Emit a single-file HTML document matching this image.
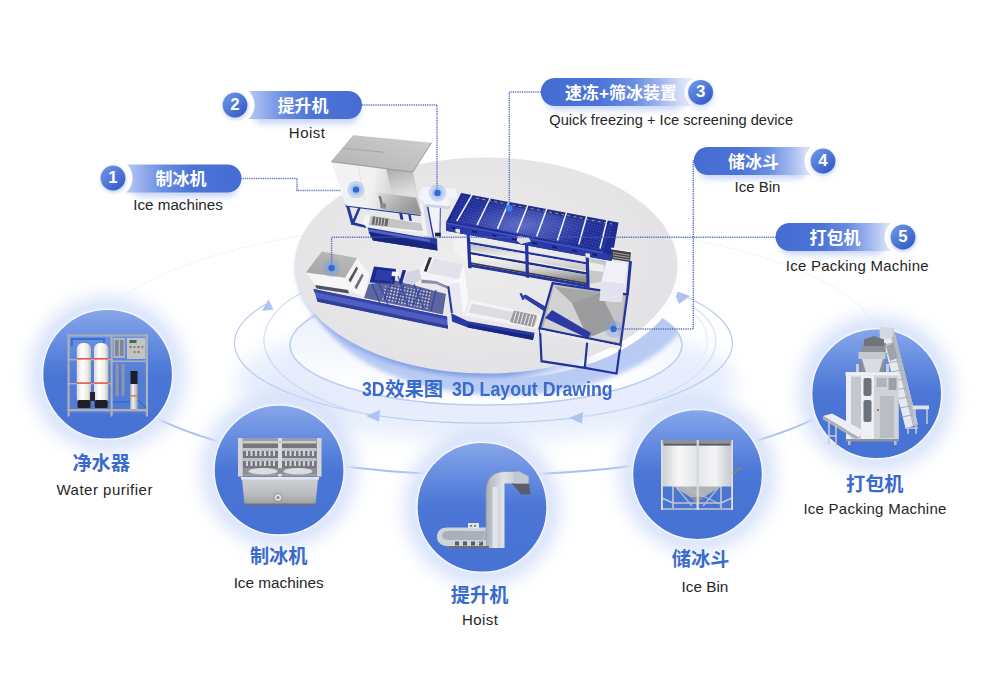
<!DOCTYPE html>
<html lang="zh">
<head>
<meta charset="utf-8">
<title>3D效果图 3D Layout Drawing</title>
<style>
html,body{margin:0;padding:0;background:#fff;}
body{width:1000px;height:689px;position:relative;overflow:hidden;font-family:"Liberation Sans",sans-serif;}
#stage{position:absolute;left:0;top:0;width:1000px;height:689px;}
svg{position:absolute;left:0;top:0;display:block;}
.t{position:absolute;white-space:nowrap;color:#262626;font-size:15px;line-height:18px;height:18px;transform:translateX(-50%);text-align:center;}
.zh{position:absolute;white-space:nowrap;color:transparent;font-size:17px;line-height:20px;transform:translate(-50%,-50%);}
.num{position:absolute;width:26px;height:26px;line-height:26px;text-align:center;color:#fff;font-weight:bold;font-size:16.8px;transform:translate(-50%,-50%);}
.ttl{position:absolute;white-space:nowrap;color:#3b6acd;font-weight:bold;font-size:21px;line-height:22px;transform:scaleX(0.845);transform-origin:0 0;}
</style>
</head>
<body>
<div id="stage">
<svg width="1000" height="689" viewBox="0 0 1000 689">

<!-- defs -->
<defs>
<linearGradient id="pillL" x1="0" y1="0" x2="1" y2="0">
  <stop offset="0" stop-color="#d5def7"/><stop offset="0.12" stop-color="#a9bdf0"/><stop offset="0.35" stop-color="#6c8fe3"/><stop offset="0.6" stop-color="#4c74d8"/><stop offset="1" stop-color="#446cd2"/>
</linearGradient>
<linearGradient id="pillR" x1="1" y1="0" x2="0" y2="0">
  <stop offset="0" stop-color="#eef2fc"/><stop offset="0.1" stop-color="#d3dcf7"/><stop offset="0.22" stop-color="#a3b8ef"/><stop offset="0.4" stop-color="#6a8de2"/><stop offset="0.62" stop-color="#4c74d8"/><stop offset="1" stop-color="#446cd2"/>
</linearGradient>
<linearGradient id="numG" x1="0.15" y1="0.1" x2="0.85" y2="0.9">
  <stop offset="0" stop-color="#6a92e6"/><stop offset="1" stop-color="#345dc6"/>
</linearGradient>
<linearGradient id="circG" x1="0" y1="0" x2="0" y2="1">
  <stop offset="0" stop-color="#88a7ea"/><stop offset="0.22" stop-color="#6a90e2"/><stop offset="0.5" stop-color="#4b76d6"/><stop offset="1" stop-color="#4672d3"/>
</linearGradient>
<radialGradient id="platG" cx="0.45" cy="0.45" r="0.6">
  <stop offset="0" stop-color="#ededee"/><stop offset="1" stop-color="#e2e2e4"/>
</radialGradient>
<filter id="b2" x="-20%" y="-20%" width="140%" height="140%"><feGaussianBlur stdDeviation="2"/></filter>
<filter id="b3" x="-30%" y="-30%" width="160%" height="160%"><feGaussianBlur stdDeviation="3"/></filter>
<filter id="b6" x="-30%" y="-30%" width="160%" height="160%"><feGaussianBlur stdDeviation="6"/></filter>
<filter id="b10" x="-30%" y="-30%" width="160%" height="160%"><feGaussianBlur stdDeviation="10"/></filter>
<filter id="b1" x="-20%" y="-20%" width="140%" height="140%"><feGaussianBlur stdDeviation="0.8"/></filter>
<clipPath id="platClip"><ellipse cx="486" cy="265.5" rx="191.5" ry="108"/></clipPath>
</defs>

<!-- background -->
<defs><linearGradient id="floorG" x1="0" y1="0" x2="0" y2="1"><stop offset="0" stop-color="#e6edfb"/><stop offset="0.5" stop-color="#f3f6fd"/><stop offset="0.8" stop-color="#fcfdff"/><stop offset="1" stop-color="#ffffff"/></linearGradient></defs>
<rect width="1000" height="689" fill="#ffffff"/>
<!-- faint big orbit -->
<ellipse cx="486" cy="348" rx="396" ry="127" fill="none" stroke="#f3f5fd" stroke-width="1.1"/>
<!-- soft blue wash under rings -->
<ellipse cx="486" cy="380" rx="250" ry="60" fill="#dfe8fb" filter="url(#b10)" opacity="0.75"/>
<!-- outer ring arcs -->
<g fill="none" stroke="#b9caf2" stroke-width="1.2">
<path d="M266.5,303.8 A249,80 0 1 0 680,294"/>
<path d="M300.5,293.5 C272,308 259,332 265.5,350 C275,380 320,405 374,416" stroke="#cfdaf6"/>
<path d="M576,417.5 C640,412 700,385 714,352 C720,335 712,318 690,305" stroke="#d6dff7"/>
<path d="M330,305 C300,318 292,338 296,352" stroke="#e2e9fa"/>
<path d="M640,397 C675,385 700,368 706,350 C710,336 704,322 694,314" stroke="#e6ecfb"/>
</g>
<!-- arrow heads -->
<g fill="#afc3f1">
<path d="M268.5,299.5 L262,311 L273.5,309.5 Z"/>
<path d="M366,416 L380,410 L379,421.5 Z"/>
<path d="M569,418 L583,412 L582,423.5 Z"/>
<path d="M673,290 L690,296 L679,304 Z"/>
</g>
<!-- inner ellipse -->
<ellipse cx="486" cy="345" rx="196" ry="60" fill="url(#floorG)" stroke="#bccdf3" stroke-width="1.5"/>

<!-- platform -->
<defs>
<clipPath id="floorClip"><ellipse cx="486" cy="345" rx="196" ry="60"/></clipPath>
<linearGradient id="wallG" x1="0" y1="0" x2="1" y2="0"><stop offset="0" stop-color="#ffffff" stop-opacity="0"/><stop offset="0.55" stop-color="#ffffff" stop-opacity="0"/><stop offset="0.8" stop-color="#ffffff" stop-opacity="1"/><stop offset="1" stop-color="#fbfcff" stop-opacity="1"/></linearGradient>
<linearGradient id="glowG" x1="0" y1="0" x2="0.25" y2="1"><stop offset="0" stop-color="#8eaaec" stop-opacity="0.3"/><stop offset="0.6" stop-color="#8eaaec" stop-opacity="0.55"/><stop offset="1" stop-color="#7f9ee8" stop-opacity="1"/></linearGradient>
</defs>
<!-- shadow of platform on floor ring -->
<g clip-path="url(#floorClip)">
<ellipse cx="504" cy="287.500" rx="193" ry="108" fill="#b6c9f3" filter="url(#b2)" opacity="0.95"/>
</g>
<!-- blue under glow (left / bottom) -->
<ellipse cx="486" cy="269.500" rx="190.500" ry="107.500" fill="url(#glowG)" filter="url(#b2)"/>
<!-- white wall on right -->
<ellipse cx="489" cy="271.500" rx="192" ry="108.500" fill="url(#wallG)"/>
<ellipse cx="486" cy="265.500" rx="191.500" ry="108" fill="url(#platG)"/>

<!-- machines -->
<g id="machines">
<defs>
<linearGradient id="mTop" x1="0" y1="1" x2="1" y2="0"><stop offset="0" stop-color="#b2b2b2"/><stop offset="1" stop-color="#cfcfcf"/></linearGradient>
<linearGradient id="mTop2" x1="0" y1="1" x2="1" y2="0"><stop offset="0" stop-color="#a4a4a4"/><stop offset="1" stop-color="#bdbdbd"/></linearGradient>
<linearGradient id="mFront" x1="0" y1="0" x2="1" y2="0.12"><stop offset="0" stop-color="#f4f4f4"/><stop offset="0.5" stop-color="#f0f0f0"/><stop offset="0.72" stop-color="#d6d6d6"/><stop offset="0.9" stop-color="#b9b9b9"/><stop offset="1" stop-color="#d8d8d8"/></linearGradient>
<linearGradient id="mShade" x1="0" y1="0" x2="0.3" y2="1"><stop offset="0" stop-color="#a9a9a9"/><stop offset="0.5" stop-color="#c6c6c6"/><stop offset="1" stop-color="#e0e0e0"/></linearGradient>
<linearGradient id="mUnder" x1="0" y1="0" x2="1" y2="0.5"><stop offset="0" stop-color="#dcdcdc"/><stop offset="0.6" stop-color="#acacac"/><stop offset="1" stop-color="#969696"/></linearGradient>
<linearGradient id="steelA" x1="0" y1="0" x2="0.15" y2="1"><stop offset="0" stop-color="#bdbdbd"/><stop offset="0.5" stop-color="#ededed"/><stop offset="1" stop-color="#c9c9c9"/></linearGradient>
<linearGradient id="steelB" x1="0" y1="0" x2="0.15" y2="1"><stop offset="0" stop-color="#fafafa"/><stop offset="0.55" stop-color="#dcdcdc"/><stop offset="1" stop-color="#8f8f8f"/></linearGradient>
<linearGradient id="binG" x1="0" y1="0" x2="1" y2="1"><stop offset="0" stop-color="#d2d2d2"/><stop offset="0.5" stop-color="#a0a0a0"/><stop offset="1" stop-color="#c4c4c4"/></linearGradient>
<pattern id="mesh" width="2.8" height="2.8" patternUnits="userSpaceOnUse" patternTransform="rotate(14)"><rect width="2.8" height="2.8" fill="#202e98"/><circle cx="1.4" cy="1.4" r="0.55" fill="#5565c6"/></pattern>
<pattern id="mesh2" width="3.2" height="3.2" patternUnits="userSpaceOnUse" patternTransform="rotate(12)"><rect width="3.2" height="3.2" fill="#46508f"/><rect x="0.7" y="0.7" width="1.8" height="1.8" fill="#c4c8dc"/></pattern>
<radialGradient id="meshGlow" cx="0.45" cy="0.55" r="0.5"><stop offset="0" stop-color="#8fa0ea" stop-opacity="0.55"/><stop offset="1" stop-color="#8fa0ea" stop-opacity="0"/></radialGradient>
</defs>

<!-- ===== upper ice machine ===== -->
<g fill="#27369e">
<polygon points="345.6,204 348.8,204.4 354.3,224.5 351.2,224.5"/>
<polygon points="358.5,207 361,207.3 354,224 351.5,223"/>
<polygon points="351,221.6 366,225.5 366,228 351,224.4"/>
<polygon points="345.4,203.6 420.5,213 420.5,216 345.4,206.4"/>
<polygon points="399,212 402,212.4 404,223 401,223"/>
<polygon points="408,213 410.6,213.3 412,222 409.5,222"/>
</g>
<!-- blue base of upper conveyor -->
<polygon points="367.5,227.5 424.5,237.5 437,238.5 437.5,250.5 373,240.6" fill="#2a39a2"/>
<polygon points="368.5,232 436,244 437.5,250.5 373,240.6" fill="#1a2580"/>
<polygon points="368,229 430,239.5 430,242 368.5,231.5" fill="#5464cc"/>
<!-- tray -->
<polygon points="366,214.5 421.6,222.6 424.8,233 365.5,226.5 362.5,222" fill="#f4f4f6"/>
<polygon points="370.5,215.6 421,223.2 423,231 368.5,225.3" fill="#c6c6c8"/>
<polygon points="373,216.6 388.5,218.8 387.3,226.3 371.5,224.6" fill="#6a6a6e"/>
<g stroke="#d8d8d8" stroke-width="0.9"><path d="M376,217 l-1.2,7.8 M379,217.4 l-1.2,7.8 M382,217.8 l-1.2,7.8 M385,218.2 l-1.2,7.8"/></g>
<!-- hoist column -->
<polygon points="419.7,203.5 440.6,205.5 440,238.5 424,235" fill="#f1f1f6"/>
<polygon points="423,204.5 428,205 432.3,236.2 427.5,235.5" fill="#dadbe5"/>
<path d="M427.3,205 L434.8,244.5" stroke="#2a39a2" stroke-width="1.4" fill="none"/>
<path d="M440.4,206 L439.9,238" stroke="#3a49ae" stroke-width="1" fill="none"/>
<rect x="435" y="232.7" width="5.8" height="3.6" fill="#1d2350"/>
<!-- machine body -->
<polygon points="331.3,161.7 412.8,172.1 421.6,215 345.8,205.5" fill="url(#mFront)"/>
<polygon points="376.6,192.5 415.9,197.5 421.6,214.6 383.8,210" fill="url(#mUnder)"/>
<polygon points="386,168.8 412.8,172.1 416.3,197.5 391.2,194.3" fill="url(#mShade)"/>
<g stroke="#dcdcdc" stroke-width="0.7" fill="none"><path d="M358,165.2 L364.5,200 M386,168.8 L391.2,194.3"/></g>
<polygon points="353.7,135.2 431.7,142.7 412.8,172.1 331.3,161.7" fill="url(#mTop)"/>
<path d="M343,148.2 L384,152.3" stroke="#9a9a9a" stroke-width="0.7"/>
<path d="M331.3,161.7 L412.8,172.1 L431.7,142.7" stroke="#8c8c8c" stroke-width="0.8" fill="none"/>
<path d="M353.7,135.2 L331.3,161.7" stroke="#a0a0a0" stroke-width="0.6" fill="none"/>
<polygon points="378.5,196 381,196.2 383.5,207 381,207" fill="#77777b"/>
<rect x="380.5" y="203.5" width="5.5" height="5" fill="#8a8a8e"/>
<!-- hoist head box -->
<polygon points="421.6,186.7 454.9,188.8 459.3,200.4 447.7,206.2 425.9,204.1 418.7,197.5" fill="#f3f4f9"/>
<polygon points="425.9,204.1 447.7,206.2 459.3,200.4 459.8,203 448,209 426.3,206.7" fill="#d0d2e0"/>
<polygon points="448,196 461,199.5 463.5,208.5 452,212.5" fill="#ececf4"/>

<!-- ===== freezer ===== -->
<polygon points="453.5,240 467,237.5 468,264 454.5,251.5" fill="#f3f3f5"/>
<polygon points="468,238.4 588,259.4 588,264.4 468,243.4" fill="#e9e9ea"/>
<polygon points="468,241.4 588,262.4 588,264.8 468,243.8" fill="#2636a0"/>
<polygon points="468,243.8 588,264.8 588,271.6 468,250.6" fill="url(#steelA)"/>
<polygon points="468,250.6 588,271.6 588,272.6 468,251.6" fill="#f6f6f6"/>
<polygon points="468,251.6 588,272.6 588,275.0 468,254.0" fill="#232f86"/>
<polygon points="468,254.0 588,275.0 588,282.8 468,261.8" fill="url(#steelB)"/>
<polygon points="468,261.8 588,282.8 588,284.4 468,263.4" fill="#3b3b40"/>
<polygon points="468,263.4 588,284.4 588,287.4 468,266.4" fill="#24339c"/>
<!-- right part of trough -->
<polygon points="588,258 607,261 606,281 588,284" fill="#c9c9cb"/>
<polygon points="588,262 604,265 603.5,272 588,270" fill="#ededed"/>
<!-- legs -->
<g fill="#24339c">
<polygon points="466.5,232 469.8,232.6 471.5,268.5 468.2,268"/>
<polygon points="525,243 528.3,243.7 529,278 525.8,277.5"/>
<polygon points="585.6,255 588.8,255.7 589.6,288 586.5,287.5"/>
</g>
<!-- freezer top -->
<polygon points="461.2,193 618.5,222.6 611.5,261 446,230.8 446,222.3" fill="#1d2b92"/>
<polygon points="462.5,195.5 614,224.5 603,251.5 449.5,221.5" fill="url(#mesh)"/>
<polygon points="470,198 600,224 592,248 458,222" fill="url(#meshGlow)"/>
<polygon points="446,222.3 603,252 611.5,256 611.5,261 446,230.8" fill="#2a3aa6"/>
<polygon points="446,222.3 603,252 603,253.4 446,223.7" fill="#4656c4"/>
<g fill="#101a5c"><polygon points="452,226.8 457,227.7 457,229.3 452,228.4"/><polygon points="472,230.6 477,231.5 477,233.1 472,232.2"/><polygon points="492,234.4 497,235.3 497,236.9 492,236.0"/><polygon points="512,238.2 517,239.1 517,240.7 512,239.8"/><polygon points="532,242.0 537,242.9 537,244.5 532,243.6"/><polygon points="552,245.8 557,246.7 557,248.3 552,247.4"/><polygon points="572,249.6 577,250.5 577,252.1 572,251.2"/><polygon points="592,253.4 597,254.3 597,255.9 592,255.0"/></g>
<g stroke="#f4f5fb" stroke-width="1.5" fill="none">
<path d="M472.1,194.6 L456.8,221.2"/><path d="M490.2,198 L477.1,225"/><path d="M509.1,201.6 L497.5,228.8"/><path d="M527.9,205.2 L517,232.6"/><path d="M546.8,208.8 L536.6,236.4"/><path d="M566.5,212.4 L557.4,240.4"/><path d="M586.6,216.2 L578.8,244.4"/><path d="M607,220 L600,248.5"/>
</g>
<g stroke="#b7a84a" stroke-width="0.9" stroke-dasharray="3 3.2" fill="none"><path d="M476,198 L612,224"/></g>
<polygon points="518,236 528.5,237.5 531,241.5 521,244 516.5,240.5" fill="#dedfe4"/>
<polygon points="455.5,228.5 460,229.3 460,233 455.5,232.2" fill="#e8e8ea"/>
<polygon points="585.5,253 590,253.8 590,258 585.5,257.2" fill="#e8e8ea"/>
<!-- right end grate -->
<polygon points="612,249 631,252 630,262 611,259" fill="#444"/>
<polygon points="611,247.5 632,250.8 632,252.6 611,249.3" fill="#f0f0f0"/>
<g stroke="#d0d0d0" stroke-width="0.7"><path d="M613,252.6 L629.5,255.2 M613,255 L629.5,257.6 M613,257.4 L629.5,260"/></g>

<!-- ===== lower-left machine ===== -->
<polygon points="313.5,289 447,316.5 448,328.5 317.5,301.5" fill="#4f5ec0"/>
<polygon points="313.5,289 447,316.5 447.3,319.6 314.2,292" fill="#3342a6"/>
<polygon points="316.5,298 448,325.5 448,328.8 317.5,301.8" fill="#2f3c98"/>
<!-- mesh conveyor -->
<polygon points="368.8,284 396,280.5 446,294 442.8,314.5 364,298" fill="#5d659e"/>
<polygon points="386,284.5 432,291 428.5,309.5 381,299.5" fill="url(#mesh2)"/>
<polygon points="374,266.5 396,269 394.5,284 369.6,282.5" fill="#1c2a90"/>
<polygon points="377,269.5 392,271.3 391,281 374.5,280" fill="#2d3ca8"/>
<g stroke="#3544a8" stroke-width="1.3" fill="none" opacity="0.9"><path d="M372,284 L380,303 M378,281 L388,305 M392,280 L384,300 M398,276 L408,306 M404,285 L396,304 M414,284 L424,309 M421,288 L413,306 M436,290 L431,311"/></g>
<polygon points="402.5,270 406,270.3 402,284 398.8,283.6" fill="#1e2c92"/>
<polygon points="392,271.5 399,272 398.5,276.5 391.5,276" fill="#f4f4f8"/>
<!-- gray box -->
<polygon points="345,277.7 357.3,258.1 361.5,264 369.5,274.5 364,297 348,290" fill="#f6f6f8"/>
<polygon points="348.5,280 356.5,266.500 358,268.500 350.500,282.500" fill="#55555a"/>
<polygon points="354.500,287 362,273.500 363.600,275.500 356.500,289.500" fill="#70707a"/>
<polygon points="305.8,272.6 345,277.7 348,290 315.2,285" fill="#f6f6f6"/>
<polygon points="315.2,285 348,290 349,293.6 316.5,288.5" fill="#50535f"/>
<polygon points="321.8,251.6 357.3,258.1 345,277.7 305.8,272.6" fill="url(#mTop2)"/>
<!-- funnel hood -->
<polygon points="403.7,282.9 406.4,272.4 419.4,269.2 428.5,257 434.5,257.2 463.2,264.6 468.4,299.8 451.4,312.9 448.8,286.5 436,281 421.4,280.5 413.5,284.2" fill="#f4f4f8"/>
<polygon points="403.7,282.9 406.4,272.4 419.4,269.2 421.4,279.6 413.5,284.2" fill="#d4d5e0"/>
<polygon points="434.4,258.1 463.2,264.6 459.2,279 427.2,273.1" fill="#e2e3ea"/>
<polygon points="429,257.2 432,257.4 426.5,272 423.8,271" fill="#303036"/>
<polygon points="421.4,279.6 436,281 448.8,286.5 449,289.5 436,284 421.6,283" fill="#8d90a6"/>

<!-- ===== elbow conveyor ===== -->
<polygon points="448.8,284.2 459.2,279 463.2,264.6 468.4,299.8 463.5,315.4 451.4,313.2" fill="#f8f8fb"/>
<polygon points="448.8,284.2 459.2,282 463.5,315.4 451.4,313.2" fill="#e9eaf1"/>
<polygon points="447.2,286 449.3,286.2 453,313.2 450.8,312.8" fill="#2a39a2"/>
<!-- low tray -->
<polygon points="470.8,300 541,315 536.5,329 464.5,315.4" fill="#f3f3f6"/>
<polygon points="472,303.5 538,317.3 535.5,325.5 468.5,312.5" fill="#dcdce2"/>
<polygon points="514,310.5 537,315.3 533.5,327 510,322" fill="#97979c"/>
<g stroke="#f1f1f1" stroke-width="1"><path d="M516.5,311.5 l-3,10.5 M520,312.3 l-3,10.5 M523.5,313.1 l-3,10.5 M527,313.9 l-3,10.5 M530.5,314.7 l-3,10.5 M534,315.5 l-3,10.5"/></g>
<polygon points="451.2,313.3 467.9,321.2 534.6,332.8 533,340 467.9,327.5 452,321.5" fill="#2a39a2"/>
<polygon points="467.9,324 533.8,336 533,340 467.9,327.5" fill="#1a2682"/>
<!-- diagonal screw -->
<polygon points="521.6,296.5 525.5,294.5 566,319 563,323.5" fill="#2d3ca6"/>
<polygon points="519.5,293.5 521.8,293 524.5,299.5 522.3,300" fill="#2d3ca6"/>

<!-- ===== ice bin ===== -->
<polygon points="552.6,283.1 627.5,294.4 620.5,344.9 539.6,328.4" fill="url(#binG)"/>
<polygon points="554.5,286.5 572,303 588,338 543,327.5" fill="#d3d3d4"/>
<polygon points="554.5,286.5 600.5,293 572,303" fill="#a6a6a8"/>
<polygon points="572,303 600.5,293 617,326 588,338" fill="#9c9c9e"/>
<polygon points="600.5,293 625,296.5 619,342 617,326" fill="#c4c4c6"/>
<polygon points="588,338 617,326 619,342" fill="#d8d8da"/>
<polygon points="545,318 552,310 591,333 588,338.5" fill="#2c3ba4"/>
<g fill="none" stroke="#24339c" stroke-width="2.2" stroke-linejoin="miter">
<polygon points="552.6,283.1 627.5,294.4 620.5,344.9 539.6,328.4"/>
<path d="M540,329 L541.5,361.2 L584.8,367.8 L616.5,373.5 L620.5,345"/>
<path d="M587.5,339 L584.8,367.5"/>
</g>
<polygon points="540,329.5 620.5,346 620.2,349.5 540.2,333" fill="#e9e9ec"/>
<!-- chute -->
<polygon points="606.6,260.4 627.5,263.1 621.4,302.2 599.6,300.5 601.4,281.3" fill="#f1f1f7"/>
<polygon points="601.4,281.3 624.5,283.5 621.4,302.2 599.6,300.5" fill="#e2e3ee"/>
<polygon points="629,261 632,261.3 628.8,295 626,294.6" fill="#24339c"/>
</g>

<!-- lines -->
<g fill="none" stroke="#4760b8" stroke-width="1.5" stroke-dasharray="1 0.8" opacity="0.9">
<path d="M241.5,178.5 H297 V190.5 H341"/>
<path d="M362,105 H437 V190"/>
<path d="M541,92 H509.3 V206"/>
<path d="M694,161 H693.3 V329 H616"/>
<path d="M776,237.3 H331.6 V266"/>
</g>
<!-- markers -->
<g>
<circle cx="356" cy="189.6" r="8.7" fill="#6f9be8" opacity="0.32"/><circle cx="356" cy="189.6" r="5.6" fill="#6f9be8" opacity="0.3"/><circle cx="356" cy="189.6" r="3.2" fill="#2f6bd8"/>
<circle cx="437.5" cy="192.9" r="8.7" fill="#6f9be8" opacity="0.32"/><circle cx="437.5" cy="192.9" r="5.6" fill="#6f9be8" opacity="0.3"/><circle cx="437.5" cy="192.9" r="3.2" fill="#2f6bd8"/>
<circle cx="509.1" cy="208.2" r="3.4" fill="#3f7de6"/>
<circle cx="613.5" cy="329" r="8.7" fill="#6f9be8" opacity="0.32"/><circle cx="613.5" cy="329" r="3.2" fill="#2f6bd8"/>
<circle cx="331.6" cy="268" r="8.7" fill="#6f9be8" opacity="0.32"/><circle cx="331.6" cy="268" r="5.6" fill="#6f9be8" opacity="0.3"/><circle cx="331.6" cy="268" r="3.2" fill="#2f6bd8"/>
</g>

<!-- circles -->
<!-- connecting orbit between circles -->
<g fill="none" stroke="#a9c0f2" stroke-linecap="round">
<path d="M157,418.7 A396,127 0 0 0 218,441.5" stroke-width="2"/>
<path d="M344,466.6 A396,127 0 0 0 423,473.4" stroke-width="2"/>
<path d="M540,473.8 A396,127 0 0 0 632,466.1" stroke-width="2"/>
<path d="M754,441.5 A396,127 0 0 0 815,418.7" stroke-width="2"/>
</g>
<!-- halos -->
<g filter="url(#b10)" fill="#cddaf8" opacity="0.9"><circle cx="107.6" cy="374.3" r="76"/><circle cx="279.1" cy="470" r="76"/><circle cx="482" cy="507.3" r="76"/><circle cx="697.5" cy="474.6" r="76"/><circle cx="876.7" cy="393.8" r="76"/></g>
<g filter="url(#b3)" fill="#dfe8fb" opacity="1"><circle cx="107.6" cy="374.3" r="70"/><circle cx="279.1" cy="470" r="70"/><circle cx="482" cy="507.3" r="70"/><circle cx="697.5" cy="474.6" r="70"/><circle cx="876.7" cy="393.8" r="70"/></g>
<g fill="url(#circG)" stroke="#f3f6fe" stroke-width="1.4">
<circle cx="107.6" cy="374.3" r="65"/>
<circle cx="279.1" cy="470" r="65"/>
<circle cx="482" cy="507.3" r="65"/>
<circle cx="697.5" cy="474.6" r="65"/>
<circle cx="876.7" cy="393.8" r="65"/>
</g>

<!-- products -->
<defs>
<linearGradient id="stV" x1="0" y1="0" x2="1" y2="0"><stop offset="0" stop-color="#9a9ea6"/><stop offset="0.35" stop-color="#f2f3f5"/><stop offset="0.7" stop-color="#c5c8ce"/><stop offset="1" stop-color="#8d9199"/></linearGradient>
<linearGradient id="stH" x1="0" y1="0" x2="0" y2="1"><stop offset="0" stop-color="#cfd0d3"/><stop offset="0.6" stop-color="#b9babd"/><stop offset="1" stop-color="#9d9ea2"/></linearGradient>
<linearGradient id="tank" x1="0" y1="0" x2="1" y2="0"><stop offset="0" stop-color="#d9d9d2"/><stop offset="0.35" stop-color="#ffffff"/><stop offset="0.75" stop-color="#ecece6"/><stop offset="1" stop-color="#bdbdb6"/></linearGradient>
<linearGradient id="binBox" x1="0" y1="0" x2="1" y2="0"><stop offset="0" stop-color="#c9ccd0"/><stop offset="0.25" stop-color="#f7f7f8"/><stop offset="0.5" stop-color="#e3e4e7"/><stop offset="0.75" stop-color="#f4f4f6"/><stop offset="1" stop-color="#c2c5ca"/></linearGradient>
<linearGradient id="hoistG" x1="0" y1="0" x2="1" y2="0"><stop offset="0" stop-color="#aab0ba"/><stop offset="0.4" stop-color="#dfe3e8"/><stop offset="1" stop-color="#b4bac4"/></linearGradient>
</defs>

<!-- 1 water purifier -->
<g id="p1">
<rect x="68" y="335" width="80" height="79" fill="#6b8fe0" opacity="0.25"/>
<g fill="#adb0b6">
<rect x="67.5" y="334.5" width="2.2" height="82"/><rect x="110.5" y="334.5" width="2.2" height="82"/><rect x="145.8" y="334.5" width="2.2" height="82"/>
<rect x="67.5" y="334.5" width="80.5" height="2"/><rect x="67.5" y="409" width="80.5" height="2.4"/><rect x="67.5" y="359" width="45" height="1.4"/><rect x="67.5" y="383" width="45" height="1.4"/><rect x="111" y="360.5" width="36" height="1.6"/>
</g>
<path d="M72,346 V339 H104 V345" stroke="#2f6fd6" stroke-width="1.8" fill="none"/>
<rect x="76.8" y="343" width="14.2" height="61" rx="6" fill="url(#tank)"/>
<rect x="94" y="343" width="14.4" height="61" rx="6" fill="url(#tank)"/>
<rect x="76.8" y="358" width="14.2" height="1.6" fill="#e8584a"/><rect x="94" y="358" width="14.4" height="1.6" fill="#e8584a"/>
<rect x="76.8" y="382.3" width="14.2" height="1.6" fill="#e8584a"/><rect x="94" y="382.3" width="14.4" height="1.6" fill="#e8584a"/>
<rect x="77.5" y="400" width="13" height="8" rx="1.5" fill="#1f2024"/><rect x="94.7" y="400" width="13" height="8" rx="1.5" fill="#1f2024"/>
<rect x="90" y="392" width="5" height="9" fill="#26272c"/>
<rect x="113.5" y="338" width="11.5" height="20" fill="#aeb3bd"/><rect x="115" y="340" width="3.6" height="16" fill="#7f8796"/><rect x="120" y="340" width="3.6" height="16" fill="#7f8796"/>
<rect x="127" y="338" width="18.5" height="21" fill="#bfc3ca"/>
<rect x="129.5" y="340" width="7" height="3" fill="#3f6f56"/>
<g><circle cx="130.5" cy="347" r="1.1" fill="#d43c3c"/><circle cx="134.5" cy="347" r="1.1" fill="#3aa455"/><circle cx="138.5" cy="347" r="1.1" fill="#d43c3c"/><circle cx="142.5" cy="347" r="1.1" fill="#3aa455"/><circle cx="130.5" cy="352" r="1.1" fill="#e4c43c"/><circle cx="134.5" cy="352" r="1.1" fill="#3aa455"/><circle cx="138.5" cy="352" r="1.1" fill="#d43c3c"/><circle cx="142.5" cy="352" r="1.1" fill="#e4c43c"/></g>
<rect x="115.6" y="364" width="3" height="32" fill="#8f96a3"/><rect x="121.5" y="364" width="3" height="32" fill="#8f96a3"/>
<rect x="130.5" y="371" width="7" height="13" fill="#1c1d21"/><rect x="130" y="384" width="8" height="25" fill="url(#stV)"/><rect x="130" y="395" width="8" height="1.6" fill="#d9853c"/>
<path d="M113,402 H130 M138,400 L146,408" stroke="#2f6fd6" stroke-width="1.6" fill="none"/>
</g>

<!-- 2 ice machine -->
<g id="p2">
<polygon points="238,438 321.5,438 319.5,476.5 240,476.5" fill="#9a9da3"/>
<rect x="243" y="441" width="73.5" height="33" fill="#74777e"/>
<rect x="238" y="438" width="4.6" height="38.5" fill="#d3d5d9"/><rect x="317" y="438" width="4.5" height="38.5" fill="#d3d5d9"/><rect x="278" y="438" width="4" height="38.5" fill="#dcdde0"/>
<rect x="243" y="441" width="73.5" height="2.5" fill="#c9cbd0"/>
<rect x="243" y="448" width="35" height="3" fill="#c2c5ca"/><rect x="282" y="448" width="34.5" height="3" fill="#c2c5ca"/>
<rect x="243" y="458" width="35" height="3" fill="#bcbfc4"/><rect x="282" y="458" width="34.5" height="3" fill="#bcbfc4"/>
<g fill="#d2d5d9"><rect x="246" y="451" width="2" height="5"/><rect x="250.5" y="451" width="2" height="5"/><rect x="255" y="451" width="2" height="5"/><rect x="259.5" y="451" width="2" height="5"/><rect x="264" y="451" width="2" height="5"/><rect x="268.5" y="451" width="2" height="5"/><rect x="273" y="451" width="2" height="5"/>
<rect x="285" y="451" width="2" height="5"/><rect x="289.5" y="451" width="2" height="5"/><rect x="294" y="451" width="2" height="5"/><rect x="298.5" y="451" width="2" height="5"/><rect x="303" y="451" width="2" height="5"/><rect x="307.5" y="451" width="2" height="5"/><rect x="312" y="451" width="2" height="5"/>
<rect x="246" y="461" width="2" height="5"/><rect x="250.5" y="461" width="2" height="5"/><rect x="255" y="461" width="2" height="5"/><rect x="259.5" y="461" width="2" height="5"/><rect x="264" y="461" width="2" height="5"/><rect x="268.5" y="461" width="2" height="5"/><rect x="273" y="461" width="2" height="5"/>
<rect x="285" y="461" width="2" height="5"/><rect x="289.5" y="461" width="2" height="5"/><rect x="294" y="461" width="2" height="5"/><rect x="298.5" y="461" width="2" height="5"/><rect x="303" y="461" width="2" height="5"/><rect x="307.5" y="461" width="2" height="5"/><rect x="312" y="461" width="2" height="5"/></g>
<rect x="243" y="468" width="73.5" height="6" fill="#8d9097"/><ellipse cx="263" cy="471.2" rx="14.500" ry="3.200" fill="#dcdde0"/><ellipse cx="298" cy="471.2" rx="14.500" ry="3.200" fill="#dcdde0"/>
<polygon points="242,479 318,479 315.5,505 244.5,505" fill="url(#stH)"/>
<rect x="241" y="477" width="78" height="2.6" fill="#e4e5e8"/>
<rect x="244.5" y="503.5" width="71" height="2" fill="#6f737a"/>
<circle cx="278" cy="497.5" r="4" fill="#dfe1e4" stroke="#7d8189" stroke-width="0.8"/><circle cx="278" cy="497.5" r="1.6" fill="#8b8f97"/>
</g>

<!-- 3 hoist -->
<g id="p3">
<path d="M486,548 V492 Q486,471.5 506,471.5 H519 L528.5,476.5 V483.5 H504.5 V548 Z" fill="url(#hoistG)"/>
<path d="M486,548 V492 Q486,471.5 506,471.5 H519" fill="none" stroke="#8d94a0" stroke-width="0.8"/>
<rect x="492.5" y="487" width="5" height="61" fill="#eef0f3" opacity="0.7"/>
<polygon points="512,483.5 529,483.5 530.5,494.5 521,494.5" fill="#595e68"/>
<polygon points="512.5,472 519,471.5 528.5,476.5 528.5,483.5 514,483.5" fill="#c4c9d1"/>
<path d="M441,527.5 H486 V546.5 H452 Q437,546.5 437,537 Q437,527.5 448,527.5 Z" fill="#cfd4db"/>
<path d="M448,531 H486 V540 H450 Q442,540 442,535.5 Q442,531 448,531 Z" fill="#aab0bb"/>
<rect x="449" y="546" width="40" height="2.6" fill="#6a6f79"/>
<g fill="#565b65"><rect x="455" y="541.5" width="4" height="4"/><rect x="463" y="541.5" width="4" height="4"/><rect x="471" y="541.5" width="4" height="4"/><rect x="479" y="541.5" width="4" height="4"/></g>
<rect x="468" y="523" width="11" height="5.5" fill="#e1e4e9"/><circle cx="471" cy="525.8" r="0.9" fill="#444"/><circle cx="475" cy="525.8" r="0.9" fill="#444"/>
<path d="M486,527 Q486,540 476,546" fill="none" stroke="#b9bfc9" stroke-width="1"/>
</g>

<!-- 4 ice bin -->
<g id="p4">
<g stroke="#c5c8ce" stroke-width="1.6" fill="none">
<path d="M662,486 V510 M673,486 V508 M697.5,486 V510 M721,486 V508 M732,486 V510 M662,509 H732.5 M673,503 H721 M662,498 L673,503 M732,498 L721,503"/>
</g>
<polygon points="673,486 722,486 704,497 690,497" fill="#aeb2b9"/>
<polygon points="690,497 704,497 699,502 695,502" fill="#8b9098"/>
<g stroke="#b9bdc4" stroke-width="1.2" fill="none"><path d="M676,487 L692,506 M719,487 L703,506 M684,487 L722,505"/></g>
<rect x="661" y="440" width="72" height="46.5" fill="url(#binBox)"/>
<rect x="661" y="440" width="72" height="3.4" fill="#8d9199"/>
<rect x="663.5" y="443.4" width="67" height="2.2" fill="#565a62"/>
<rect x="696.6" y="440" width="2.2" height="70" fill="#d5d7db"/>
<rect x="661" y="440" width="1.6" height="70" fill="#dfe0e3"/><rect x="731.4" y="440" width="1.6" height="70" fill="#dfe0e3"/>
<path d="M733,474 L739,468 L742,470" stroke="#7c828c" stroke-width="2" fill="none"/>
</g>

<!-- 5 packing machine -->
<g id="p5">
<!-- inclined elevator -->
<polygon points="879.5,326.5 893.5,328.5 918,425 905.5,428" fill="#e6e9ee"/>
<polygon points="888.5,327.8 893.5,328.5 918,425 913,426.2" fill="#b4bac4"/>
<g stroke="#9aa0ab" stroke-width="0.8"><path d="M881.5,336 L892,334 M883.700,345 L894.200,343 M886,354 L896.500,352 M888.200,363 L898.700,361 M890.500,372 L901,370 M892.700,381 L903.200,379 M895,390 L905.500,388 M897.200,399 L907.700,397 M899.500,408 L910,406 M901.700,417 L912.200,415"/></g>
<polygon points="879.5,326.5 893.5,328.5 893,337 880,341" fill="#d5d9df"/>
<polygon points="886,346 893.500,343 897.500,358 890,361" fill="#9da2ab"/>
<!-- small stand right -->
<path d="M915,409 V424 M927,409 V424 M905,428 H918 M908,428 V434 M916,426 V434" stroke="#c9cdd4" stroke-width="1.5" fill="none"/>
<rect x="912.5" y="405.500" width="16.500" height="3.800" fill="#dfe2e7"/>
<!-- weigher -->
<polygon points="862,343 886,343 884,372.5 860,372.5" fill="#8b9099"/>
<polygon points="864,339.5 874,336 884,339.5 884,346 864,346" fill="#6e737c"/>
<rect x="858.5" y="352" width="27" height="7" fill="#c5c9d0"/>
<polygon points="862,359 883,359 879,372.5 866,372.5" fill="#d9dce1"/>
<rect x="856" y="364" width="3" height="10" fill="#c9cdd4"/><rect x="886" y="364" width="3" height="10" fill="#c9cdd4"/>
<!-- main body -->
<rect x="846" y="372" width="52.5" height="69" fill="#d9dce2"/>
<rect x="845.5" y="372.5" width="52.5" height="3" fill="#f0f1f4"/>
<rect x="846" y="372" width="5" height="69" fill="#eceef1"/>
<rect x="851" y="377" width="10" height="61" fill="#c3c7cf"/>
<rect x="861" y="375.5" width="13" height="64" fill="#eef0f3"/>
<rect x="863.5" y="378" width="8" height="18" rx="2" fill="#6d727c"/><rect x="863.5" y="400" width="8" height="22" rx="2" fill="#6d727c"/>
<rect x="874" y="375.5" width="24.5" height="64" fill="#d0d4da"/>
<rect x="876.5" y="378" width="10" height="9" fill="#aeb3bc"/><rect x="888.5" y="378" width="8" height="12" fill="#9ba0aa"/>
<rect x="880" y="396" width="14" height="42" fill="#b9bdc6"/>
<circle cx="878" cy="410" r="1" fill="#d43c3c"/>
<rect x="846" y="439" width="52.5" height="2.5" fill="#8d929b"/>
<rect x="848" y="441" width="2.6" height="4" fill="#b9bdc6"/><rect x="894" y="441" width="2.6" height="4" fill="#b9bdc6"/>
<!-- output conveyor -->
<polygon points="823,416 832,413.500 866,432 858,437" fill="#eceef2"/>
<polygon points="823,416 858,437 858,440.500 823,419.500" fill="#aab0ba"/>
<path d="M829,421 V444 M836,425 V446 M829,436 H836" stroke="#c9cdd4" stroke-width="1.5" fill="none"/>
</g>

<!-- labels -->
<!-- pill shadows -->
<g filter="url(#b3)" fill="#b7c8f3" opacity="0.75">
<rect x="130" y="172" width="108" height="25" rx="12"/>
<rect x="252" y="99" width="108" height="25" rx="12"/>
<rect x="545" y="85" width="140" height="25" rx="12"/>
<rect x="698" y="154" width="110" height="25" rx="12"/>
<rect x="780" y="230" width="106" height="25" rx="12"/>
<circle cx="113" cy="181" r="12"/><circle cx="235" cy="108" r="12"/><circle cx="700.6" cy="95.3" r="12"/><circle cx="823" cy="164" r="12"/><circle cx="903" cy="240" r="12"/>
</g>
<!-- pills (number on left) -->
<path d="M118,164.5 H227.5 A14,14 0 0 1 227.5,192.5 H118 Z" fill="url(#pillL)"/>
<path d="M240,91 H348 A14,14 0 0 1 348,119 H240 Z" fill="url(#pillL)"/>
<!-- pills (number on right) -->
<path d="M696,78 H554.8 A14,14 0 0 0 554.8,106 H696 Z" fill="url(#pillR)"/>
<path d="M818,147 H707.8 A14,14 0 0 0 707.8,175 H818 Z" fill="url(#pillR)"/>
<path d="M898,223 H789.6 A14,14 0 0 0 789.6,251 H898 Z" fill="url(#pillR)"/>
<!-- white rings -->
<g fill="#ffffff">
<circle cx="113" cy="178" r="19.6"/><circle cx="235" cy="105" r="19.6"/><circle cx="700.6" cy="92.3" r="16"/><circle cx="823" cy="161" r="18.5"/><circle cx="903" cy="237" r="18.5"/>
</g>
<g filter="url(#b2)" fill="#9fb6ee" opacity="0.8">
<circle cx="113.5" cy="180" r="12"/><circle cx="235.5" cy="107" r="12"/><circle cx="701" cy="94.3" r="12"/><circle cx="823.5" cy="163" r="12"/><circle cx="903.5" cy="239" r="12"/>
</g>
<g fill="url(#numG)">
<circle cx="113" cy="178" r="12.4"/><circle cx="235" cy="105" r="12.4"/><circle cx="700.6" cy="92.3" r="12.4"/><circle cx="823" cy="161" r="12.4"/><circle cx="903" cy="237" r="12.4"/>
</g>

<!-- cjk -->
<g fill="#ffffff" font-family='"Liberation Sans", "Noto Sans CJK SC", sans-serif' font-weight="bold" font-size="17">
<text x="155.5" y="184.7">制冰机</text>
<text x="277.5" y="111.7">提升机</text>
<text x="565" y="98.9">速冻+筛冰装置</text>
<text x="728.1" y="167.5">储冰斗</text>
<text x="809.5" y="243.7">打包机</text>
</g>
<g fill="#3b6acd" font-family='"Liberation Sans", "Noto Sans CJK SC", sans-serif' font-weight="bold" font-size="19.2">
<text x="72.4" y="470.3">净水器</text>
<text x="249.9" y="563.3">制冰机</text>
<text x="450.8" y="602.1">提升机</text>
<text x="671.8" y="566.3">储冰斗</text>
<text x="846" y="490.5">打包机</text>
<text x="385.25" y="395.6" font-size="19.3">效果图</text>
</g>
</svg>

<!-- top labels -->
<div class="num" style="left:113px;top:178px;">1</div>
<div class="zh" style="left:181px;top:178px;">制冰机</div>
<div class="t" style="left:178px;top:195.5px;font-size:15.2px;">Ice machines</div>

<div class="num" style="left:235px;top:105px;">2</div>
<div class="zh" style="left:303px;top:105px;">提升机</div>
<div class="t" style="left:307.2px;top:123.5px;font-size:15px;letter-spacing:0.5px;">Hoist</div>

<div class="num" style="left:700.6px;top:92.3px;">3</div>
<div class="zh" style="left:621px;top:92px;">速冻+筛冰装置</div>
<div class="t" style="left:671.2px;top:110.5px;font-size:14.65px;">Quick freezing + Ice screening device</div>

<div class="num" style="left:823px;top:161px;">4</div>
<div class="zh" style="left:753px;top:161px;">储冰斗</div>
<div class="t" style="left:757.5px;top:178px;font-size:15px;">Ice Bin</div>

<div class="num" style="left:903px;top:237px;">5</div>
<div class="zh" style="left:835px;top:237px;">打包机</div>
<div class="t" style="left:857.3px;top:256.7px;font-size:15px;letter-spacing:0.25px;">Ice Packing Machine</div>

<!-- centre title -->
<div class="zh" style="left:402px;top:386px;font-size:19px;">3D效果图</div>
<div class="ttl" style="left:362.3px;top:377.5px;">3D</div>
<div class="ttl" style="left:451.6px;top:377.5px;">3D Layout Drawing</div>

<!-- bottom labels -->
<div class="zh" style="left:101.5px;top:463px;font-size:20px;">净水器</div>
<div class="t" style="left:104.7px;top:480.8px;font-size:15px;letter-spacing:0.5px;">Water purifier</div>

<div class="zh" style="left:278.7px;top:556px;font-size:20px;">制冰机</div>
<div class="t" style="left:278.7px;top:573.6px;font-size:15.3px;">Ice machines</div>

<div class="zh" style="left:479.6px;top:595px;font-size:20px;">提升机</div>
<div class="t" style="left:480.2px;top:610.5px;font-size:15px;letter-spacing:0.45px;">Hoist</div>

<div class="zh" style="left:700.6px;top:559px;font-size:20px;">储冰斗</div>
<div class="t" style="left:705px;top:577.5px;font-size:15.3px;">Ice Bin</div>

<div class="zh" style="left:874.8px;top:483px;font-size:20px;">打包机</div>
<div class="t" style="left:875px;top:500px;font-size:15px;letter-spacing:0.25px;">Ice Packing Machine</div>
</div>
</body>
</html>
